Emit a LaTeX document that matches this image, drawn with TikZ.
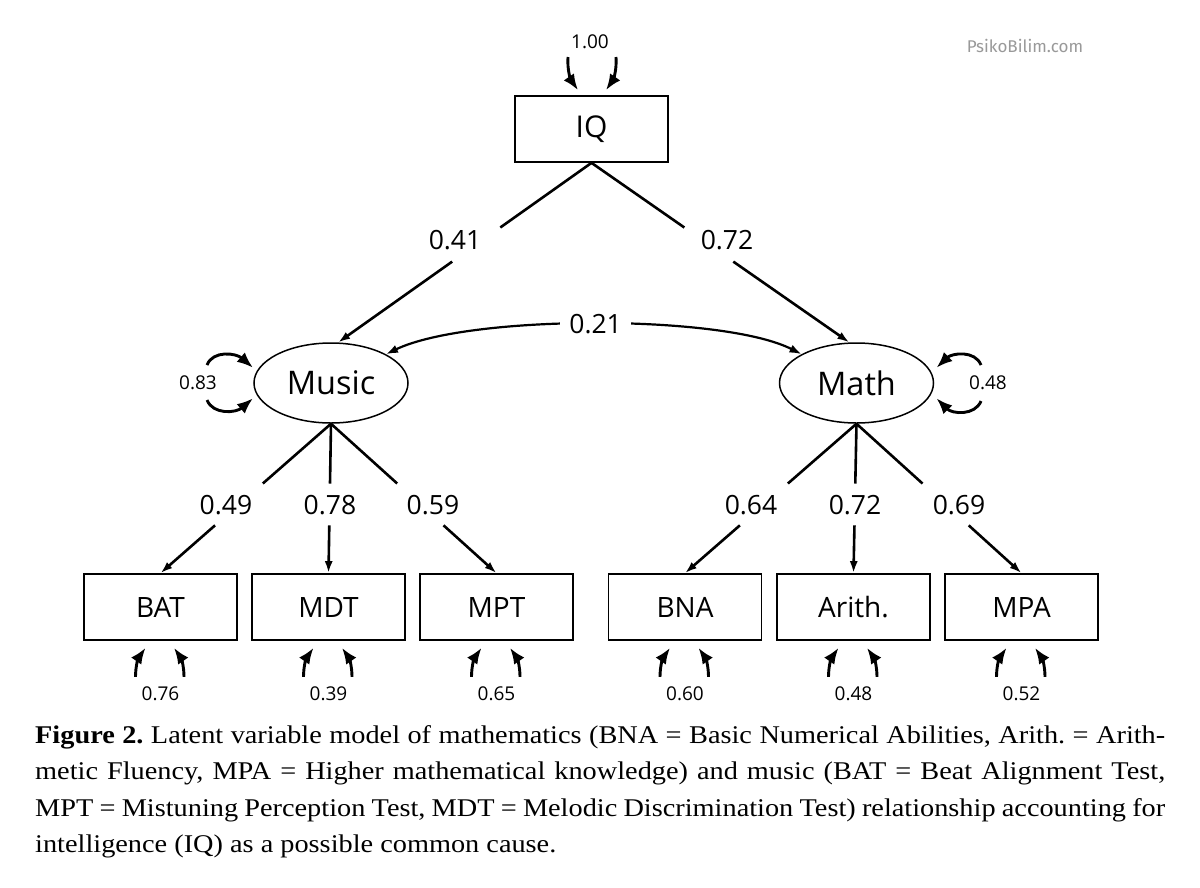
\documentclass[tikz,border=0pt]{standalone}
\usepackage{fontspec}
\setmainfont{Open Sans}
\newfontfamily\capfont[FakeStretch=1.11]{Liberation Serif}
\newfontfamily\wmfont{Fira Sans}
\usetikzlibrary{arrows.meta,shapes.geometric,calc}
\tikzset{
  obs/.style={draw, line width=1.7pt, minimum width=153pt, minimum height=66pt, inner sep=0pt, font=\fontsize{28}{32}\selectfont},
  lat/.style={ellipse, draw, line width=1.5pt, minimum width=154pt, minimum height=80pt, inner sep=0pt, font=\fontsize{32.5}{36}\selectfont},
  lab/.style={font=\fontsize{26.5}{30}\selectfont, inner sep=0pt},
  small/.style={font=\fontsize{19}{22}\selectfont, inner sep=0pt},
  conn/.style={line width=2.6pt},
  ltip/.style={-{Latex[length=12pt,width=8pt]}},
  restip/.style={line width=2.9pt, -{Latex[length=16pt,width=12.5pt]}},
}
\begin{document}
\begin{tikzpicture}[x=1pt,y=-1pt]
\fill[white] (0,0) rectangle (1200,887);
\useasboundingbox (0,0) rectangle (1200,887);

% nodes
\node[obs, font=\fontsize{30}{34}\selectfont] (iq) at (591.5,129) {IQ};
\node[lat] (music) at (331,383) {Music};
\node[lat] (math) at (856.5,383) {Math};
\node[obs] (bat) at (160.5,607) {BAT};
\node[obs] (mdt) at (328.5,607) {MDT};
\node[obs] (mpt) at (496.5,607) {MPT};
\node[obs] (bna) at (685,607) {BNA};
\node[obs] (arith) at (853.5,607) {Arith.};
\node[obs] (mpa) at (1021.5,607) {MPA};

% watermark
\node[font=\wmfont\fontsize{17}{20}\selectfont, text=black!40, inner sep=0pt] (wm) at (1025,46) {PsikoBilim.com};

% IQ variance
\node[small] (viq) at (590,42) {1.00};
\coordinate (q1) at (568,57);
\coordinate (q2) at (616,57);
\draw[restip] (q1) .. controls (567,70) and (571,80) .. ([xshift=-13.5pt,yshift=5pt]iq.north);
\draw[restip] (q2) .. controls (617,70) and (613,80) .. ([xshift=14.5pt,yshift=5pt]iq.north);

% IQ paths
\node[lab] (l41) at (455,240) {0.41};
\node[lab] (l72) at (727,240) {0.72};
\draw[conn] (iq.south) -- ($(iq.south)!0.36!(music.80)$);
\draw[conn,ltip] ($(iq.south)!0.55!(music.80)$) -- (music.80);
\draw[conn] (iq.south) -- ($(iq.south)!0.36!(math.100)$);
\draw[conn,ltip] ($(iq.south)!0.55!(math.100)$) -- (math.100);

% covariance
\draw[line width=2.2pt, {Latex[length=12pt,width=8.5pt]}-{Latex[length=12pt,width=8.5pt]}]
  (music.north east) .. controls +(83,-40) and +(-78,-40) .. (math.north west)
  node[lab, pos=0.5, fill=white, inner xsep=9pt, inner ysep=2pt] (l21) {0.21};

% latent variances
\node[small] (v83) at (198,383) {0.83};
\coordinate (m1) at (207,365);
\coordinate (m2) at (207,400);
\draw[restip] (m1) .. controls (213,350) and (236,353) .. ([xshift=-6pt]music.168);
\draw[restip] (m2) .. controls (213,415) and (236,413) .. ([xshift=-6pt]music.192);
\node[small] (v48) at (988,383) {0.48};
\coordinate (h1) at (981,365);
\coordinate (h2) at (981,401);
\draw[restip] (h1) .. controls (975,350) and (952,353) .. ([xshift=8pt]math.12);
\draw[restip] (h2) .. controls (975,416) and (952,414) .. ([xshift=8pt]math.-12);

% loadings
\foreach \s/\t in {music/bat,music/mdt,music/mpt,math/bna,math/arith,math/mpa}{
  \draw[conn] (\s.south) -- ($(\s.south)!0.40!(\t.north)$);
  \draw[conn,ltip] ($(\s.south)!0.68!(\t.north)$) -- (\t.north);
}
\node[lab] (l49) at (226,505) {0.49};
\node[lab] (l78) at (330,505) {0.78};
\node[lab] (l59) at (433,505) {0.59};
\node[lab] (l64) at (751,505) {0.64};
\node[lab] (l72b) at (855,505) {0.72};
\node[lab] (l69) at (959,505) {0.69};

% residuals
\foreach \b/\v in {bat/0.76,mdt/0.39,mpt/0.65,bna/0.60,arith/0.48,mpa/0.52}{
  \draw[restip] ([xshift=-25pt,yshift=-36pt]\b.south) .. controls ([xshift=-25pt,yshift=-25pt]\b.south) and ([xshift=-22pt,yshift=-17pt]\b.south) .. ([xshift=-15pt,yshift=-7pt]\b.south);
  \draw[restip] ([xshift=23.5pt,yshift=-36pt]\b.south) .. controls ([xshift=23.5pt,yshift=-25pt]\b.south) and ([xshift=20.5pt,yshift=-17pt]\b.south) .. ([xshift=13.5pt,yshift=-7pt]\b.south);
  \node[small] (r\b) at ([yshift=-53pt]\b.south) {\v};
}

% caption
\node[anchor=north west, inner sep=0pt, text width=1130pt, align=justify,
      font=\capfont\fontsize{25.5}{36.6}\selectfont] (cap) at (35,725)
{\frenchspacing\hyphenpenalty=10000\tolerance=10000\textbf{Figure 2.} Latent variable model of mathematics (BNA = Basic Numerical Abilities, Arith. = Arith-\linebreak
metic Fluency, MPA = Higher mathematical knowledge) and music (BAT = Beat Alignment Test,\linebreak
MPT = Mistuning Perception Test, MDT = Melodic Discrimination Test) relationship accounting for\linebreak
intelligence (IQ) as a possible common cause.};
\end{tikzpicture}
\end{document}
